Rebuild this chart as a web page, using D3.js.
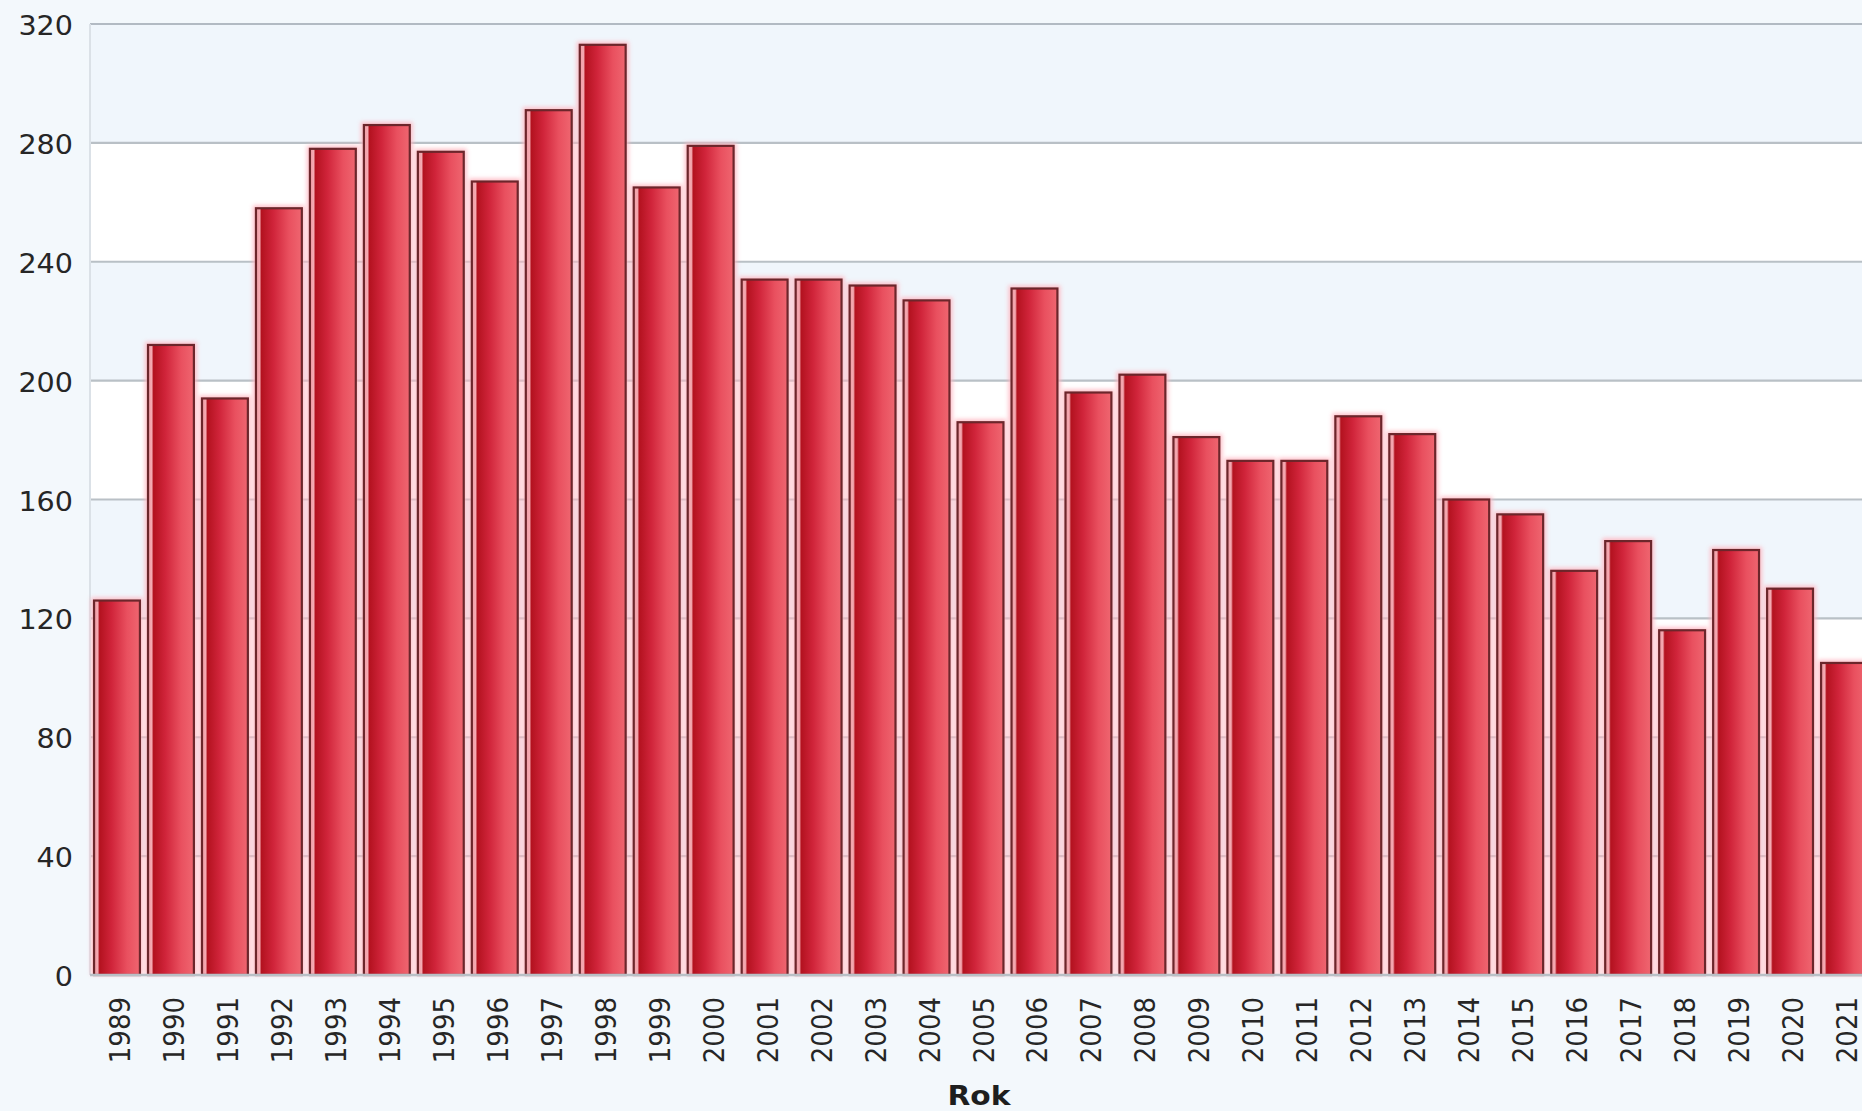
<!DOCTYPE html>
<html>
<head>
<meta charset="utf-8">
<script src="https://cdn.jsdelivr.net/npm/d3@7"></script>
<style>
  html, body { margin: 0; padding: 0; background: #f3f8fc; overflow: hidden; }
  svg { display: block; }
</style>
</head>
<body>
<svg id="chart" width="1862" height="1111"></svg>
<script>
const years = ["1989","1990","1991","1992","1993","1994","1995","1996","1997","1998","1999","2000",
  "2001","2002","2003","2004","2005","2006","2007","2008","2009","2010","2011","2012","2013",
  "2014","2015","2016","2017","2018","2019","2020","2021"];
const values = [126,212,194,258,278,286,277,267,291,313,265,279,
  234,234,232,227,186,231,196,202,181,173,173,188,182,
  160,155,136,146,116,143,130,105];
const yTicks = [0,40,80,120,160,200,240,280,320];
const xTitle = "Rok";

(function () {
const W = 1862, H = 1111;
const plotLeft = 90, plotTop = 24, plotBottom = 975;
const step = 53.97;
const svg = d3.select("#chart");

const x = d3.scaleBand().domain(years)
  .range([plotLeft, plotLeft + years.length * step])
  .paddingInner(0.15).paddingOuter(0.075);
const y = d3.scaleLinear().domain([0, 320]).range([plotBottom, plotTop]);

// defs
const defs = svg.append("defs");
const g = defs.append("linearGradient").attr("id","barGrad").attr("x1","0").attr("x2","1").attr("y1","0").attr("y2","0");
[["0%","#f09aa3"],["8%","#f4aab2"],["12%","#b3121f"],["38%","#d0243a"],["72%","#e9505f"],["100%","#ef6670"]]
  .forEach(([o,c]) => g.append("stop").attr("offset",o).attr("stop-color",c));
const blur = defs.append("filter").attr("id","glow").attr("x","-30%").attr("y","-5%").attr("width","160%").attr("height","110%");
blur.append("feGaussianBlur").attr("stdDeviation", 2.2);

// background bands
for (let i = 0; i < yTicks.length - 1; i++) {
  const lo = yTicks[i], hi = yTicks[i+1];
  svg.append("rect")
    .attr("x", plotLeft).attr("y", y(hi)).attr("width", W - plotLeft).attr("height", y(lo) - y(hi))
    .attr("fill", (i % 2 === 0) ? "#ffffff" : "#f0f6fc");
}

// gridlines
svg.append("g").selectAll("line").data(yTicks.filter(d => d > 0)).join("line")
  .attr("x1", plotLeft).attr("x2", W)
  .attr("y1", d => y(d)).attr("y2", d => y(d))
  .attr("stroke", d => d === 320 ? "#b2bac3" : "#b9c0c6").attr("stroke-width", 2.2);

// y axis line
svg.append("line").attr("x1", plotLeft).attr("x2", plotLeft).attr("y1", plotTop).attr("y2", plotBottom)
  .attr("stroke", "#dbe1e7").attr("stroke-width", 2);

// bars: glow
const bars = years.map((yr, i) => ({ yr, v: values[i] }));
svg.append("g").selectAll("rect").data(bars).join("rect")
  .attr("x", d => x(d.yr) - 3).attr("y", d => y(d.v) - 3)
  .attr("width", x.bandwidth() + 6).attr("height", d => y(0) - y(d.v) + 3)
  .attr("fill", "#ffb8c2").attr("opacity", 0.9).attr("filter", "url(#glow)");

svg.append("g").selectAll("rect").data(bars).join("rect")
  .attr("x", d => x(d.yr)).attr("y", d => y(d.v))
  .attr("width", x.bandwidth()).attr("height", d => y(0) - y(d.v))
  .attr("fill", "url(#barGrad)")
  .attr("stroke", "#6c262b").attr("stroke-width", 2.2);

// baseline
svg.append("line").attr("x1", plotLeft).attr("x2", W).attr("y1", plotBottom).attr("y2", plotBottom)
  .attr("stroke", "#b9c0c6").attr("stroke-width", 2.5);

// y axis labels via d3 axis
const yAxis = svg.append("g").call(d3.axisLeft(y).tickValues(yTicks).tickSize(0).tickFormat(d3.format("d")));
yAxis.select(".domain").remove();
yAxis.selectAll(".tick text").each(function(d) {
  d3.select(this).attr("x", null).attr("dy", null)
   .attr("text-anchor", "end")
   .attr("transform", `translate(73,10.5) scale(1.1,1)`)
   .attr("font-family", "DejaVu Sans").attr("font-size", 26).attr("fill", "#262626");
});

// x axis labels via d3 axis
const xAxis = svg.append("g").attr("transform", `translate(0,${plotBottom})`)
  .call(d3.axisBottom(x).tickSize(0));
xAxis.select(".domain").remove();
xAxis.selectAll(".tick text").each(function(d) {
  d3.select(this).attr("y", null).attr("dy", null)
   .attr("text-anchor", "end")
   .attr("transform", `translate(13,22) scale(1.1,1) rotate(-90)`)
   .attr("font-family", "DejaVu Sans").attr("font-size", 26).attr("fill", "#262626");
});

// x title
svg.append("text").attr("transform", `translate(979,1105) scale(1.1,1)`)
  .attr("text-anchor", "middle").attr("font-family", "DejaVu Sans").attr("font-weight", "bold")
  .attr("font-size", 27).attr("fill", "#1e1e1e").text(xTitle);
})();
</script>
</body>
</html>
